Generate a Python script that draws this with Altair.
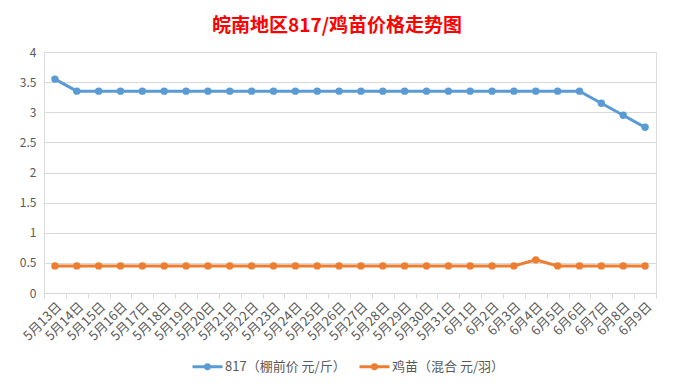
import altair as alt
import pandas as pd

dates = ["5月13日", "5月14日", "5月15日", "5月16日", "5月17日", "5月18日", "5月19日",
         "5月20日", "5月21日", "5月22日", "5月23日", "5月24日", "5月25日", "5月26日",
         "5月27日", "5月28日", "5月29日", "5月30日", "5月31日", "6月1日", "6月2日",
         "6月3日", "6月4日", "6月5日", "6月6日", "6月7日", "6月8日", "6月9日"]
price_817 = [3.55, 3.35, 3.35, 3.35, 3.35, 3.35, 3.35, 3.35, 3.35, 3.35, 3.35, 3.35, 3.35, 3.35,
             3.35, 3.35, 3.35, 3.35, 3.35, 3.35, 3.35, 3.35, 3.35, 3.35, 3.35, 3.15, 2.95, 2.75]
price_chick = [0.45, 0.45, 0.45, 0.45, 0.45, 0.45, 0.45, 0.45, 0.45, 0.45, 0.45, 0.45, 0.45, 0.45,
               0.45, 0.45, 0.45, 0.45, 0.45, 0.45, 0.45, 0.45, 0.55, 0.45, 0.45, 0.45, 0.45, 0.45]
series_names = ["817（棚前价 元/斤）", "鸡苗（混合 元/羽）"]
series_colors = ["#5B9BD5", "#ED7D31"]

rows = []
for i, d in enumerate(dates):
    rows.append({"date": d, "series": series_names[0], "value": price_817[i], "order": i})
    rows.append({"date": d, "series": series_names[1], "value": price_chick[i], "order": i})
df = pd.DataFrame(rows)

FONT = "Noto Sans CJK SC"
legend_symbol = "M-1,0L1,0M0.13,0A0.13,0.13,0,1,1,-0.13,0A0.13,0.13,0,1,1,0.13,0Z"

chart = alt.Chart(df).mark_line(
    strokeWidth=3,
    point=alt.OverlayMarkDef(filled=True, size=55),
).encode(
    x=alt.X("date:N", sort=dates, title=None,
            scale=alt.Scale(paddingInner=0, paddingOuter=0),
            axis=alt.Axis(labelAngle=-45, tickBand="extent", grid=False,
                          domainColor="#D9D9D9", tickColor="#D9D9D9", tickSize=5,
                          labelColor="#595959", labelFont=FONT, labelFontSize=13,
                          labelPadding=2)),
    y=alt.Y("value:Q", title=None,
            scale=alt.Scale(domain=[0, 4], nice=False),
            axis=alt.Axis(values=[0, 0.5, 1, 1.5, 2, 2.5, 3, 3.5, 4], domain=False, ticks=False,
                          gridColor="#D9D9D9", labelColor="#595959", labelFont=FONT,
                          labelFontSize=12, labelPadding=8, format="~g")),
    color=alt.Color("series:N", sort=series_names,
                    scale=alt.Scale(domain=series_names, range=series_colors),
                    legend=alt.Legend(title=None, orient="none", direction="horizontal",
                                      legendX=147, legendY=298,
                                      symbolType=legend_symbol, symbolSize=900,
                                      symbolStrokeWidth=3, columnPadding=7,
                                      labelFont=FONT, labelFontSize=13, labelColor="#595959",
                                      labelOffset=1)),
    order="order:Q",
).properties(
    width=612,
    height=241,
    title=alt.TitleParams("皖南地区817/鸡苗价格走势图", color="#FF0000", fontSize=19,
                          font=FONT, fontWeight="bold", anchor="middle", offset=10, dx=-13),
    autosize=alt.AutoSizeParams(type="none"),
    padding={"left": 36, "top": 44, "right": 9, "bottom": 87},
).configure_view(stroke=None).configure(background="white")

chart.save("out.html", embed_options={"renderer": "svg", "actions": False})
